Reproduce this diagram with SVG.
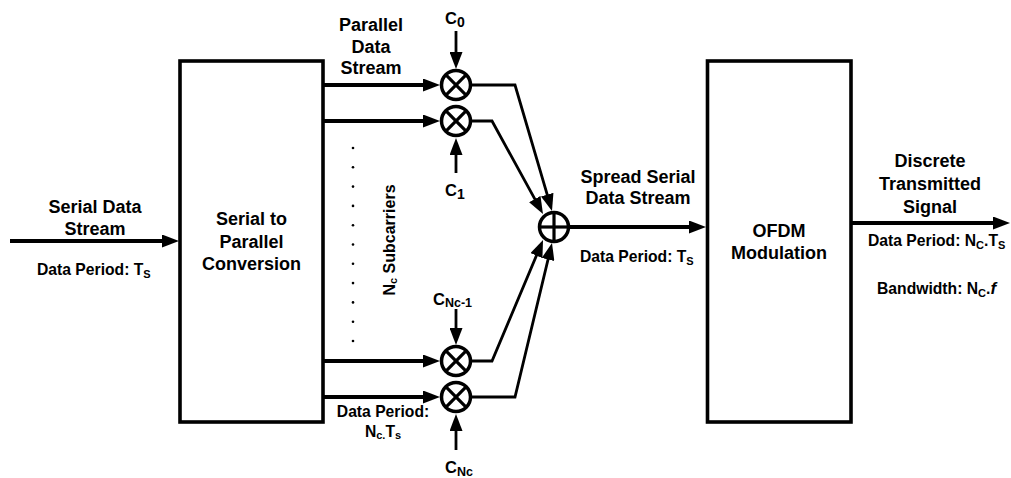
<svg xmlns="http://www.w3.org/2000/svg" width="1011" height="478" viewBox="0 0 1011 478">
<style>
text{font-family:"Liberation Sans",Arial,sans-serif;font-weight:bold;fill:#000}
.big{font-size:18px}
.sm{font-size:15.7px}
.c{font-size:16.5px}
.box{fill:#fff;stroke:#000;stroke-width:3.6}
.thick{fill:none;stroke:#000;stroke-width:3.8}
.thin{fill:none;stroke:#000;stroke-width:2.8}
.op{fill:#fff;stroke:#000;stroke-width:3.5}
.opl{stroke:#000;stroke-width:3.2}
</style>
<defs>
<marker id="ah" markerUnits="userSpaceOnUse" markerWidth="17" markerHeight="13" refX="11" refY="6.5" orient="auto">
<path d="M0,0 L17,6.5 L0,13 z" fill="#000"/>
</marker>
</defs>
<rect width="1011" height="478" fill="#fff"/>

<g id="connectors">
<line class="thick" x1="10" y1="241" x2="173" y2="241" marker-end="url(#ah)"/>
<line class="thick" x1="323" y1="85" x2="434" y2="85" marker-end="url(#ah)"/>
<line class="thick" x1="323" y1="121" x2="434" y2="121" marker-end="url(#ah)"/>
<line class="thick" x1="323" y1="361" x2="434" y2="361" marker-end="url(#ah)"/>
<line class="thick" x1="323" y1="397" x2="434" y2="397" marker-end="url(#ah)"/>
<line class="thin" x1="456" y1="31" x2="456" y2="63" marker-end="url(#ah)"/>
<line class="thin" x1="456" y1="173" x2="456" y2="144" marker-end="url(#ah)"/>
<line class="thin" x1="456" y1="309" x2="456" y2="339" marker-end="url(#ah)"/>
<line class="thin" x1="456" y1="450" x2="456" y2="420" marker-end="url(#ah)"/>
<polyline class="thin" points="470.5,85 515,85 550.3,205.2" marker-end="url(#ah)"/>
<polyline class="thin" points="470.5,121 492,121 540.1,208.7" marker-end="url(#ah)"/>
<polyline class="thin" points="470.5,361 492,361 540.7,245.5" marker-end="url(#ah)"/>
<polyline class="thin" points="470.5,397 515,397 550.6,248.8" marker-end="url(#ah)"/>
<line class="thick" x1="570" y1="227" x2="700" y2="227" marker-end="url(#ah)"/>
<line class="thick" x1="851" y1="223" x2="1004" y2="223" marker-end="url(#ah)"/>
</g>

<g id="sp-converter">
<rect class="box" x="180" y="61" width="143" height="361"/>
<text class="big" text-anchor="middle" x="251.5" y="225">Serial to</text>
<text class="big" text-anchor="middle" x="251.5" y="247.5">Parallel</text>
<text class="big" text-anchor="middle" x="251.5" y="270">Conversion</text>
</g>

<g id="ofdm">
<rect class="box" x="707.5" y="61" width="143.5" height="361"/>
<text class="big" text-anchor="middle" x="779" y="236.5">OFDM</text>
<text class="big" text-anchor="middle" x="779" y="258.5">Modulation</text>
</g>

<g id="mult0">
<circle class="op" cx="456" cy="85" r="14.5"/>
<line class="opl" x1="445.7" y1="74.7" x2="466.3" y2="95.3"/>
<line class="opl" x1="445.7" y1="95.3" x2="466.3" y2="74.7"/>
</g>
<g id="mult1">
<circle class="op" cx="456" cy="121" r="14.5"/>
<line class="opl" x1="445.7" y1="110.7" x2="466.3" y2="131.3"/>
<line class="opl" x1="445.7" y1="131.3" x2="466.3" y2="110.7"/>
</g>
<g id="mult2">
<circle class="op" cx="456" cy="361" r="14.5"/>
<line class="opl" x1="445.7" y1="350.7" x2="466.3" y2="371.3"/>
<line class="opl" x1="445.7" y1="371.3" x2="466.3" y2="350.7"/>
</g>
<g id="mult3">
<circle class="op" cx="456" cy="397" r="14.5"/>
<line class="opl" x1="445.7" y1="386.7" x2="466.3" y2="407.3"/>
<line class="opl" x1="445.7" y1="407.3" x2="466.3" y2="386.7"/>
</g>
<g id="sum">
<circle class="op" cx="554" cy="227" r="14.5"/>
<line class="opl" x1="539.5" y1="227" x2="568.5" y2="227"/>
<line class="opl" x1="554" y1="212.5" x2="554" y2="241.5"/>
</g>

<g id="labels">
<text class="big" text-anchor="middle" x="95" y="213">Serial Data</text>
<text class="big" text-anchor="middle" x="95" y="235">Stream</text>
<text class="sm" x="37" y="275">Data Period: T<tspan font-size="11" dy="3">S</tspan></text>

<text class="big" text-anchor="middle" x="371" y="30.5">Parallel</text>
<text class="big" text-anchor="middle" x="371" y="52.5">Data</text>
<text class="big" text-anchor="middle" x="371" y="74">Stream</text>

<text class="c" x="445" y="24">C<tspan font-size="14" dy="3">0</tspan></text>
<text class="c" x="445" y="196">C<tspan font-size="14" dy="3">1</tspan></text>
<text class="c" x="433" y="305">C<tspan font-size="12.5" dy="2">Nc-1</tspan></text>
<text class="c" x="445" y="473">C<tspan font-size="12.5" dy="3">Nc</tspan></text>

<g fill="#000">
<circle cx="353" cy="148" r="1.3"/><circle cx="353" cy="167.3" r="1.3"/><circle cx="353" cy="186.6" r="1.3"/><circle cx="353" cy="205.9" r="1.3"/><circle cx="353" cy="225.2" r="1.3"/><circle cx="353" cy="244.5" r="1.3"/><circle cx="353" cy="263.8" r="1.3"/><circle cx="353" cy="283.1" r="1.3"/><circle cx="353" cy="302.4" r="1.3"/><circle cx="353" cy="321.7" r="1.3"/><circle cx="353" cy="341" r="1.3"/>
</g>
<text font-size="16" text-anchor="middle" transform="translate(395 240) rotate(-90)">N<tspan font-size="11" dy="2">c</tspan><tspan dy="-2"> Subcarriers</tspan></text>

<text class="sm" text-anchor="middle" x="383" y="417">Data Period:</text>
<text class="sm" text-anchor="middle" x="383" y="436.5">N<tspan font-size="11" dy="2">c.</tspan><tspan dy="-2">T</tspan><tspan font-size="11" dy="2">s</tspan></text>

<text class="big" text-anchor="middle" x="638" y="182.5">Spread Serial</text>
<text class="big" text-anchor="middle" x="638" y="204">Data Stream</text>
<text class="sm" x="580" y="261.5">Data Period: T<tspan font-size="11" dy="3">S</tspan></text>

<text class="big" text-anchor="middle" x="930" y="167">Discrete</text>
<text class="big" text-anchor="middle" x="930" y="190">Transmitted</text>
<text class="big" text-anchor="middle" x="930" y="213">Signal</text>
<text class="sm" x="868" y="246">Data Period: N<tspan font-size="11" dy="3">C</tspan><tspan dy="-3">.T</tspan><tspan font-size="11" dy="3">S</tspan></text>
<text class="sm" x="877" y="294">Bandwidth: N<tspan font-size="11" dy="3">C</tspan><tspan dy="-3">.</tspan><tspan font-style="italic" font-size="17">f</tspan></text>
</g>
</svg>
